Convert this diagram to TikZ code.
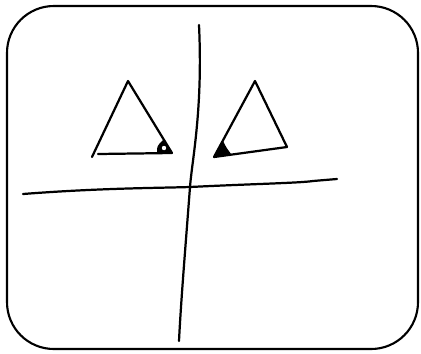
\documentclass[tikz,border=0pt]{standalone}
\usepackage{tikz}

\begin{document}
\begin{tikzpicture}[
    x=0.03cm, y=-0.03cm,
    line cap=round,
    line join=round,
    stroke/.style={
        draw,
        line width=1.9pt
    },
    tri/.style={
        draw,
        line width=1.9pt
    }
]
    \useasboundingbox (0,0) rectangle (421,353);

    % Frame
    \draw[line width=1.8pt, rounded corners=40] (7,6) rectangle (418,349);

    % Axes
    \coordinate (vtop) at (199,25);
    \coordinate (vbot) at (179,341);
    \coordinate (hleft) at (23,194);
    \coordinate (hright) at (337,179);

    \draw[stroke] (vtop) .. controls (203,110) and (192,160) .. (190,187)
        .. controls (186,240) and (181,300) .. (vbot);
    \draw[stroke] (hleft) .. controls (100,188) and (160,188) .. (190,187)
        .. controls (250,184) and (300,183) .. (313,181) -- (hright);

    % Left triangle
    \coordinate (la) at (128,81);
    \coordinate (lb) at (92,157);
    \coordinate (lc) at (172,153);
    \draw[tri] (lb) -- (la) -- (lc) -- (98,154);
    \fill (lc) -- (163,140) .. controls (157,146) .. (157,153) -- cycle;
    \fill[white] (164,148) circle (2.2);

    % Right triangle
    \coordinate (ra) at (255,81);
    \coordinate (rb) at (214,157);
    \coordinate (rc) at (287,147);
    \draw[tri] (rb) -- (ra) -- (rc) -- cycle;
    \fill (rb) -- (223,141) .. controls (226,147) .. (231,154) -- cycle;

\end{tikzpicture}
\end{document}
